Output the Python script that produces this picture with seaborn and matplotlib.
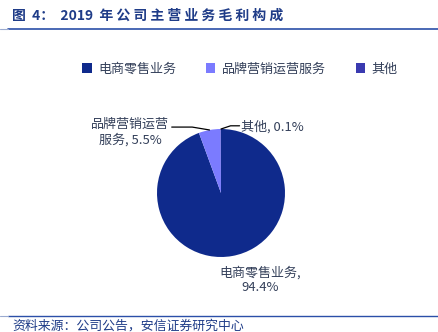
import matplotlib
matplotlib.use("Agg")
import matplotlib.pyplot as plt
import seaborn as sns
from matplotlib.lines import Line2D
from matplotlib.patches import Patch

categories = ["电商零售业务", "品牌营销运营服务", "其他"]
values = [94.4, 5.5, 0.1]
colors = ["#0F2A8C", "#7B7BFF", "#3A3AB0"]
title = "图  4：  2019  年 公 司 主 营 业 务 毛 利 构 成"
source = "资料来源：公司公告，安信证券研究中心"

sns.set_theme(style="white")
plt.rcParams['font.family'] = ['Noto Sans CJK SC', 'DejaVu Sans']

W, H = 438, 332
fig = plt.figure(figsize=(W / 100, H / 100), dpi=100)

cx, cy, r = 221, 193, 64
ax = fig.add_axes([(cx - r) / W, (H - cy - r) / H, 2 * r / W, 2 * r / H])
wedges, _ = ax.pie(values, colors=colors, startangle=90, counterclock=False,
                   radius=1, wedgeprops=dict(linewidth=0))
ax.set_xlim(-1, 1)
ax.set_ylim(-1, 1)
ax.set_aspect("equal")
ax.axis("off")

tc = "#34405A"
fs = 9.4
ax.text(-1.42, 0.95, f"品牌营销运营\n服务, {values[1]}%", ha="center", va="center",
        fontsize=fs, color=tc, linespacing=1.2, clip_on=False)
ax.plot([-0.77, -0.45, -0.18], [1.03, 1.03, 0.985], color="black", lw=0.9, clip_on=False)
ax.text(0.31, 1.03, f"其他, {values[2]}%", ha="left", va="center",
        fontsize=fs, color=tc, clip_on=False)
ax.plot([0.0, 0.15, 0.29], [1.0, 1.05, 1.05], color="black", lw=0.9, clip_on=False)
ax.text(0.61, -1.36, f"{categories[0]},\n{values[0]}%", ha="center", va="center",
        fontsize=fs, color=tc, linespacing=1.2, clip_on=False)

handles = [Patch(facecolor=c, edgecolor="none") for c in colors]
fig.legend(handles, categories, loc="center", bbox_to_anchor=(240 / W, 1 - 69 / H),
           ncol=3, frameon=False, fontsize=fs, handlelength=0.7, handleheight=0.7,
           handletextpad=0.5, columnspacing=2.3, labelcolor=tc)

fig.text(12 / W, 1 - 16 / H, title, fontsize=10, fontweight="bold",
         color="#1F3C88", ha="left", va="center")
fig.add_artist(Line2D([8 / W, 1.0], [1 - 28.5 / H, 1 - 28.5 / H], color="#2B4FA8", lw=1.2))
fig.add_artist(Line2D([0, 8 / W], [1 - 28.5 / H, 1 - 28.5 / H], color="#9AAAD0", lw=0.8))

fig.add_artist(Line2D([8 / W, 1.0], [1 - 316 / H, 1 - 316 / H], color="#2B4FA8", lw=1.0))
fig.add_artist(Line2D([0, 8 / W], [1 - 316 / H, 1 - 316 / H], color="#9AAAD0", lw=0.8))
fig.text(12 / W, 1 - 326 / H, source, fontsize=9.3, fontstyle="italic",
         color="#1F3C88", ha="left", va="center")

fig.savefig("out.png", dpi=100)
